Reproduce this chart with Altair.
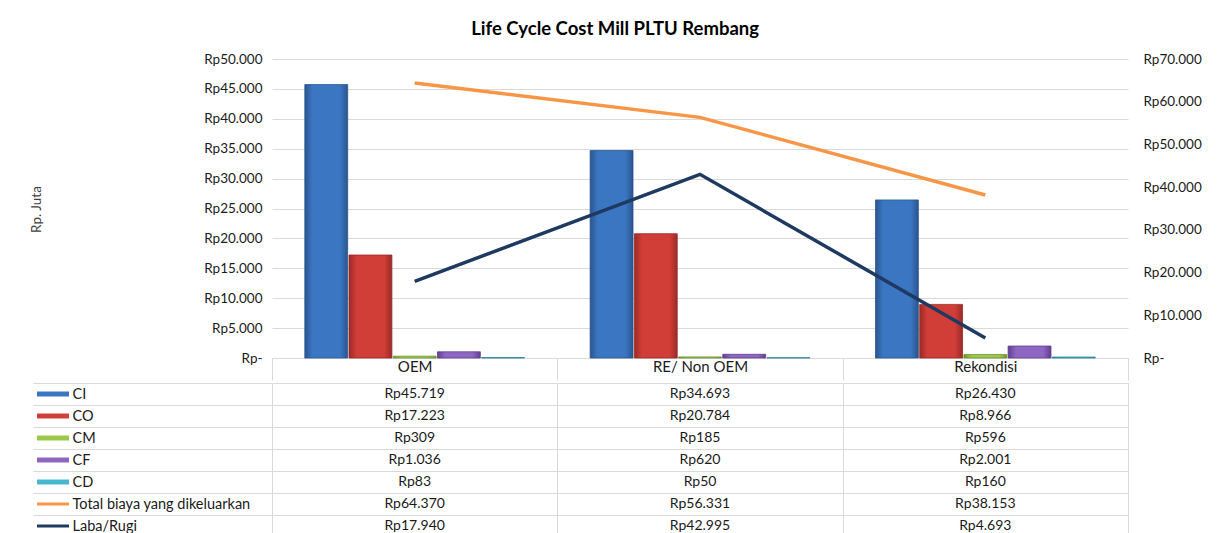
import altair as alt
import pandas as pd

categories = ["OEM", "RE/ Non OEM", "Rekondisi"]
bar_series = ["CI", "CO", "CM", "CF", "CD"]
line_series = ["Total biaya yang dikeluarkan", "Laba/Rugi"]

ci = [45719, 34693, 26430]
co = [17223, 20784, 8966]
cm = [309, 185, 596]
cf = [1036, 620, 2001]
cd = [83, 50, 160]
total = [64370, 56331, 38153]
laba = [17940, 42995, 4693]

left_ticks = list(range(0, 50001, 5000))
right_ticks = list(range(0, 70001, 10000))

bar_main = ["#3B76C3", "#D13E38", "#9BC84A", "#8C66C0", "#45B8D0"]
bar_edge = ["#2A558F", "#9B2A26", "#6F9330", "#5F3F8E", "#2A8598"]
line_colors = ["#F79646", "#1F3A60"]

FONT = "Lato"
GRID = "#d9d9d9"
TXT = "#1a1a1a"

bar_values = {"CI": ci, "CO": co, "CM": cm, "CF": cf, "CD": cd}
line_values = {"Total biaya yang dikeluarkan": total, "Laba/Rugi": laba}

bar_rows = []
for s in bar_series:
    for c, v in zip(categories, bar_values[s]):
        bar_rows.append({"category": c, "series": s, "value": v})
bar_df = pd.DataFrame(bar_rows)

line_rows = []
for s in line_series:
    for c, v in zip(categories, line_values[s]):
        line_rows.append({"category": c, "series": s, "value": v})
line_df = pd.DataFrame(line_rows)


def rp(v):
    return "Rp" + f"{v:,}".replace(",", ".")


table_order = bar_series + line_series
table_rows = []
all_values = {**bar_values, **line_values}
for r in table_order:
    for c, v in zip(categories, all_values[r]):
        table_rows.append({"category": c, "row": r, "text": rp(v)})
table_df = pd.DataFrame(table_rows)

label_expr = "datum.value == 0 ? 'Rp-' : 'Rp' + replace(format(datum.value, ','), ',', '.')"

x_top = alt.X(
    "category:N", sort=categories,
    scale=alt.Scale(paddingInner=0, paddingOuter=0),
    axis=alt.Axis(title=None, labelAngle=0, tickBand="extent", tickSize=22,
                  tickColor=GRID, domainColor=GRID, labelPadding=-14,
                  labelBaseline="middle", labelFontSize=15, labelColor=TXT,
                  labelFont=FONT),
)
x_off = alt.XOffset(
    "series:N", sort=bar_series,
    scale=alt.Scale(domain=bar_series, paddingOuter=0.742, paddingInner=0.03),
)
y_left = alt.Y(
    "value:Q",
    scale=alt.Scale(domain=[0, 50000], nice=False),
    axis=alt.Axis(values=left_ticks, grid=True, gridColor=GRID, domain=False,
                  ticks=False, labelPadding=10, labelExpr=label_expr,
                  labelFontSize=13.5, labelColor=TXT, labelFont=FONT,
                  title="Rp. Juta", titleFontSize=13.5, titleFontWeight="normal",
                  titleColor="#404040", titleFont=FONT, titleX=-236, titleY=150,
                  titleAngle=-90, titleAlign="center", titleBaseline="middle"),
)

bar_layers = []
for s, main, edge in zip(bar_series, bar_main, bar_edge):
    grad = alt.Gradient(
        gradient="linear",
        stops=[alt.GradientStop(color=edge, offset=0),
               alt.GradientStop(color=main, offset=0.18),
               alt.GradientStop(color=main, offset=0.82),
               alt.GradientStop(color=edge, offset=1)],
        x1=0, x2=1, y1=0, y2=0,
    )
    layer = (
        alt.Chart(bar_df)
        .transform_filter(alt.datum.series == s)
        .mark_bar(color=grad, stroke=edge, strokeWidth=0.8)
        .encode(x=x_top, xOffset=x_off, y=y_left)
    )
    bar_layers.append(layer)

bars = alt.layer(*bar_layers)

lines = alt.Chart(line_df).mark_line(strokeWidth=3.5).encode(
    x=x_top,
    y=alt.Y(
        "value:Q",
        scale=alt.Scale(domain=[0, 70000], nice=False),
        axis=alt.Axis(orient="right", values=right_ticks, grid=False,
                      domain=False, ticks=False, labelPadding=15,
                      labelExpr=label_expr, labelFontSize=13.5, labelColor=TXT,
                      labelFont=FONT, title=None),
    ),
    color=alt.Color("series:N", scale=alt.Scale(domain=line_series, range=line_colors),
                    legend=None),
    detail="series:N",
)

top = (
    alt.layer(bars, lines)
    .resolve_scale(y="independent")
    .properties(width=856, height=299, view=alt.ViewBackground(stroke=None))
)

rows_all = table_order
x_tab = alt.X(
    "category:N", sort=categories,
    scale=alt.Scale(paddingInner=0, paddingOuter=0),
    axis=alt.Axis(labels=False, ticks=False, domain=False, title=None,
                  grid=True, gridColor=GRID, tickBand="extent"),
)
y_tab = alt.Y(
    "row:N", sort=rows_all,
    scale=alt.Scale(paddingInner=0, paddingOuter=0),
    axis=alt.Axis(title=None, tickBand="extent", tickSize=239, tickColor=GRID,
                  domain=False, grid=True, gridColor=GRID, labelAlign="left",
                  labelPadding=-39, labelFontSize=14.5, labelColor=TXT,
                  labelFont=FONT, labelLimit=0),
)

cells = alt.Chart(table_df).mark_text(fontSize=14, font=FONT, color=TXT).encode(
    x=x_tab, y=y_tab, text="text:N"
)

sw_bar_df = pd.DataFrame({"row": bar_series})
sw_line_df = pd.DataFrame({"row": line_series})

sw_bars = alt.Chart(sw_bar_df).mark_bar(height=5).encode(
    x=alt.value(-235), x2=alt.value(-203),
    y=alt.Y("row:N", sort=rows_all),
    color=alt.Color("row:N", scale=alt.Scale(domain=bar_series, range=bar_main),
                    legend=None),
)
sw_lines = alt.Chart(sw_line_df).mark_bar(height=3).encode(
    x=alt.value(-235), x2=alt.value(-203),
    y=alt.Y("row:N", sort=rows_all),
    color=alt.Color("row:N", scale=alt.Scale(domain=line_series, range=line_colors),
                    legend=None),
)

table = (
    alt.layer(cells, sw_bars, sw_lines)
    .resolve_scale(color="independent")
    .properties(width=856, height=154, view=alt.ViewBackground(stroke=GRID))
)

chart = (
    alt.vconcat(top, table, spacing=-7)
    .properties(
        title=alt.Title("Life Cycle Cost Mill PLTU Rembang", fontSize=18.5,
                        font=FONT, fontWeight="bold", color="#000000",
                        anchor="middle", offset=14),
        padding={"left": 20, "top": 11, "right": 10, "bottom": 0},
        background="white",
    )
    .configure_view(stroke=None)
)

chart.save("out.html", embed_options={"renderer": "svg", "actions": False})
